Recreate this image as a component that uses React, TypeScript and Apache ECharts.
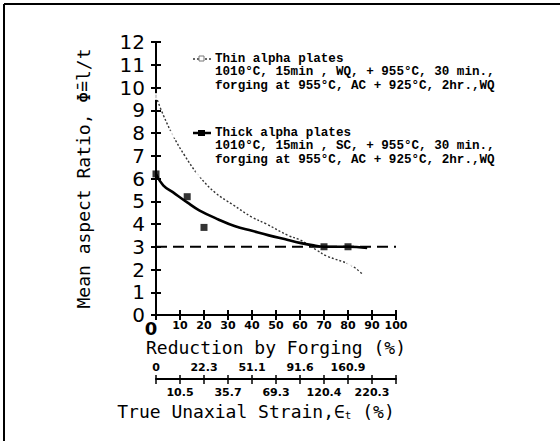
import React, { useEffect, useRef } from "react";
import * as echarts from "echarts";

// Thin alpha plates: fitted (dotted) curve and measured points
const thinCurveX = [0, 3, 7, 12, 18, 25, 32, 40, 46, 55, 60, 67, 71, 81, 86];
const thinCurveY = [9.6, 8.8, 7.9, 7.0, 6.1, 5.35, 4.85, 4.3, 4.0, 3.5, 3.3, 2.85, 2.6, 2.2, 1.8];
const thinPointsX = [0, 7, 18, 81];
const thinPointsY = [9.6, 7.95, 6.2, 2.3];

// Thick alpha plates: fitted (solid) curve and measured points
const thickCurveX = [0, 3, 7, 13, 18, 26, 33, 40, 47, 55, 60, 65, 70, 80, 88];
const thickCurveY = [6.2, 5.7, 5.4, 4.95, 4.6, 4.2, 3.9, 3.7, 3.5, 3.3, 3.17, 3.07, 3.0, 3.0, 2.95];
const thickPointsX = [0, 13, 20, 70, 80];
const thickPointsY = [6.2, 5.2, 3.85, 3.0, 3.0];

// Dashed reference line
const refX = [0, 100];
const refY = [3, 3];

// True uniaxial strain labels for reduction 0,10,...,90 %
const strainLabels = ["0", "10.5", "22.3", "35.7", "51.1", "69.3", "91.6", "120.4", "160.9", "220.3"];

const thinLegend = [
  "Thin alpha plates",
  "1010°C, 15min , WQ, + 955°C, 30 min.,",
  "forging at 955°C, AC + 925°C, 2hr.,WQ",
];
const thickLegend = [
  "Thick alpha plates",
  "1010°C, 15min , SC, + 955°C, 30 min.,",
  "forging at 955°C, AC + 925°C, 2hr.,WQ",
];

const zip = (xs: number[], ys: number[]) => xs.map((x, i) => [x, ys[i]]);

export default function App() {
  const ref = useRef<HTMLDivElement>(null);
  useEffect(() => {
    if (!ref.current) return;
    const chart = echarts.init(ref.current, undefined, { renderer: "svg" });
    const axisLine = { show: true, lineStyle: { color: "#000", width: 2 } };
    const legendFont = "'Liberation Mono', 'DejaVu Sans Mono', monospace";
    const legendText = (lines: string[], y0: number) =>
      lines.map((t, i) => ({
        type: "text",
        x: 215,
        y: y0 + i * 13.3,
        z: 110,
        style: {
          text: t,
          fill: "#000",
          font: `bold 12.6px ${legendFont}`,
          lineHeight: 13,
          textVerticalAlign: "middle",
        },
      }));
    const option: any = {
      animation: false,
      backgroundColor: "#fff",
      grid: { left: 156, top: 42, width: 240, height: 273 },
      xAxis: [
        {
          type: "value",
          min: 0,
          max: 100,
          interval: 10,
          position: "bottom",
          axisLine,
          axisTick: { inside: true, length: 5, lineStyle: { width: 2, color: "#000" } },
          splitLine: { show: false },
          axisLabel: {
            margin: 5,
            color: "#000",
            fontFamily: "DejaVu Sans",
            fontWeight: "bold",
            fontSize: 11,
            formatter: (v: number) => (v === 0 ? "{big|0}" : String(v)),
            rich: {
              big: { fontSize: 18, lineHeight: 16, fontFamily: "DejaVu Sans", color: "#000", padding: [0, 10, 0, 0] },
            },
          },
          name: "Reduction by Forging (%)",
          nameLocation: "middle",
          nameGap: 23,
          nameMoveOverlap: false,
          nameTextStyle: { fontFamily: "DejaVu Sans Mono", fontSize: 18, color: "#000" },
        },
        {
          type: "value",
          min: 0,
          max: 100,
          interval: 10,
          position: "top",
          axisLine,
          axisTick: { inside: true, length: 5, lineStyle: { width: 2, color: "#000" } },
          splitLine: { show: false },
          axisLabel: { show: false },
        },
        {
          type: "value",
          min: 0,
          max: 100,
          interval: 10,
          position: "bottom",
          offset: 64,
          axisLine,
          axisTick: { inside: true, length: 4, lineStyle: { width: 1.5, color: "#000" } },
          splitLine: { show: false },
          axisLabel: {
            inside: true,
            margin: 6,
            color: "#000",
            fontFamily: "DejaVu Sans",
            fontWeight: "bold",
            fontSize: 11,
            formatter: (v: number) => {
              const i = Math.round(v / 10);
              return i % 2 === 0 && i < strainLabels.length ? strainLabels[i] : "";
            },
          },
        },
        {
          type: "value",
          min: 0,
          max: 100,
          interval: 10,
          position: "bottom",
          offset: 64,
          axisLine: { show: false },
          axisTick: { inside: false, length: 5, lineStyle: { width: 1.5, color: "#000" } },
          splitLine: { show: false },
          axisLabel: {
            margin: 8,
            color: "#000",
            fontFamily: "DejaVu Sans",
            fontWeight: "bold",
            fontSize: 11,
            formatter: (v: number) => {
              const i = Math.round(v / 10);
              return i % 2 === 1 && i < strainLabels.length ? strainLabels[i] : "";
            },
          },
        },
      ],
      yAxis: [
        {
          type: "value",
          min: 0,
          max: 12,
          interval: 1,
          position: "left",
          axisLine,
          axisTick: { inside: true, length: 5, lineStyle: { width: 2, color: "#000" } },
          splitLine: { show: false },
          axisLabel: { margin: 11, color: "#000", fontFamily: "DejaVu Sans", fontSize: 20 },
          name: "Mean aspect Ratio, Φ̄=l/t",
          nameLocation: "middle",
          nameRotate: 90,
          nameGap: 64,
          nameMoveOverlap: false,
          nameTextStyle: { fontFamily: "DejaVu Sans Mono", fontSize: 18, color: "#000" },
        },
        {
          type: "value",
          min: 0,
          max: 12,
          interval: 1,
          position: "right",
          axisLine,
          axisTick: { inside: true, length: 5, lineStyle: { width: 2, color: "#000" } },
          splitLine: { show: false },
          axisLabel: { show: false },
        },
      ],
      series: [
        {
          type: "line",
          data: zip(refX, refY),
          symbol: "none",
          lineStyle: { color: "#000", width: 2, type: [11, 6] },
          z: 3,
        },
        {
          type: "line",
          data: zip(thinCurveX, thinCurveY),
          smooth: 0.4,
          symbol: "none",
          lineStyle: { color: "#333", width: 1.4, type: [2, 2] },
          z: 4,
        },
        {
          type: "scatter",
          data: zip(thinPointsX, thinPointsY),
          symbol: "emptyRect",
          symbolSize: 5,
          itemStyle: { color: "#fff", borderColor: "#777", borderWidth: 1 },
          z: 5,
        },
        {
          type: "line",
          data: zip(thickCurveX, thickCurveY),
          smooth: 0.4,
          symbol: "none",
          lineStyle: { color: "#000", width: 2.6 },
          z: 4,
        },
        {
          type: "scatter",
          data: zip(thickPointsX, thickPointsY),
          symbol: "rect",
          symbolSize: 7,
          itemStyle: { color: "#000" },
          z: 5,
        },
      ],
      graphic: [
        // page frame
        { type: "line", z: 100, shape: { x1: 4, y1: 4, x2: 560, y2: 4 }, style: { stroke: "#000", lineWidth: 2 } },
        { type: "line", z: 100, shape: { x1: 4, y1: 4, x2: 4, y2: 441 }, style: { stroke: "#000", lineWidth: 2 } },
        // gaps in right frame where legend text runs across
        { type: "rect", z: 100, shape: { x: 390, y: 45, width: 12, height: 48 }, style: { fill: "#fff" } },
        { type: "rect", z: 100, shape: { x: 390, y: 125, width: 12, height: 44 }, style: { fill: "#fff" } },
        // legend symbols
        { type: "line", z: 110, shape: { x1: 193, y1: 59, x2: 211, y2: 59 }, style: { stroke: "#333", lineWidth: 1.4, lineDash: [2, 2] } },
        { type: "rect", z: 111, shape: { x: 199, y: 56, width: 5, height: 5 }, style: { fill: "#fff", stroke: "#777", lineWidth: 1 } },
        { type: "line", z: 110, shape: { x1: 193, y1: 133, x2: 211, y2: 133 }, style: { stroke: "#000", lineWidth: 2.5 } },
        { type: "rect", z: 111, shape: { x: 198, y: 130, width: 7, height: 6 }, style: { fill: "#000" } },
        ...legendText(thinLegend, 59),
        ...legendText(thickLegend, 133),
        // secondary axis title
        {
          type: "text",
          x: 256,
          y: 411,
          z: 110,
          style: {
            text: "True Unaxial Strain,{e|∈}{s|t} (%)",
            fill: "#000",
            font: "18px 'DejaVu Sans Mono'",
            textAlign: "center",
            textVerticalAlign: "middle",
            rich: {
              e: { fontFamily: "DejaVu Sans Mono", fontSize: 18, fill: "#000" },
              s: { fontFamily: "DejaVu Sans Mono", fontSize: 11, fill: "#000", padding: [8, 0, 0, 0] },
            },
          },
        },
      ],
    };
    chart.setOption(option);
    return () => chart.dispose();
  }, []);
  return (
    <div
      ref={ref}
      style={{ position: "fixed", left: 0, top: 0, width: 560, height: 441, background: "#fff" }}
    />
  );
}
